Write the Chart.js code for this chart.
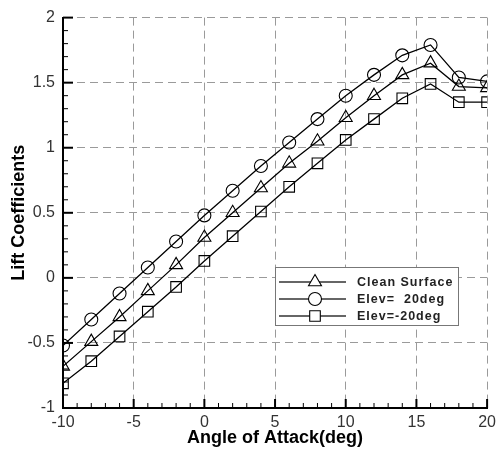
<!DOCTYPE html>
<html>
<head>
<meta charset="utf-8">
<script src="https://cdn.jsdelivr.net/npm/chart.js@4.4.1/dist/chart.umd.min.js"></script>
<style>
html,body{margin:0;padding:0;background:#fff}
#wrap{width:501px;height:453px}
</style>
</head>
<body>
<div id="wrap"><canvas id="liftChart" width="501" height="453"></canvas></div>
<script>
// angle of attack (deg)
const angles = [-10,-8,-6,-4,-2,0,2,4,6,8,10,12,14,16,18,20]

// lift coefficients
const cleanSurface = [-0.68,-0.49,-0.30,-0.10,0.10,0.31,0.50,0.69,0.88,1.05,1.23,1.40,1.56,1.65,1.47,1.46]
const elevPlus20   = [-0.52,-0.32,-0.12,0.08,0.28,0.48,0.67,0.86,1.04,1.22,1.40,1.56,1.71,1.79,1.54,1.51]
const elevMinus20  = [-0.81,-0.64,-0.45,-0.26,-0.07,0.13,0.32,0.51,0.70,0.88,1.06,1.22,1.38,1.49,1.35,1.35]

const seriesNames = ["Clean Surface","Elev=  20deg","Elev=-20deg"]

const xTicks = [-10,-5,0,5,10,15,20]
const yTicks = [-1,-0.5,0,0.5,1,1.5,2]

const FONT = "'Liberation Sans', Arial, Helvetica, sans-serif"

function points(vals){
return angles.map((a,i)=>({x:a,y:vals[i]}))
}

function serie(label,vals,style,r){
return {
label:label,
data:points(vals),
borderColor:"#000",
borderWidth:1.3,
pointStyle:style,
pointRadius:r,
pointHoverRadius:r,
pointBorderColor:"#000",
pointBackgroundColor:"rgba(0,0,0,0)",
pointBorderWidth:1.1,
tension:0,
fill:false
}
}

// petites graduations vers l'intérieur
const innerTicks = {
id:"innerTicks",
afterDraw(chart){
const ctx = chart.ctx
const xs = chart.scales.x
const ys = chart.scales.y
const a = chart.chartArea
ctx.save()
ctx.strokeStyle = "#000"
for(let v=-10; v<=20; v++){
let major = v % 5 === 0
let px = xs.getPixelForValue(v)
ctx.lineWidth = major ? 2 : 1
ctx.beginPath()
ctx.moveTo(px,a.bottom)
ctx.lineTo(px,a.bottom-(major?9:5))
ctx.stroke()
}
for(let k=-10; k<=20; k++){
let v = k/10
let major = k % 5 === 0
let py = ys.getPixelForValue(v)
ctx.lineWidth = major ? 2 : 1
ctx.beginPath()
ctx.moveTo(a.left,py)
ctx.lineTo(a.left+(major?10:5),py)
ctx.stroke()
}
ctx.restore()
}
}

// légende dans le graphique
const boxLegend = {
id:"boxLegend",
afterDraw(chart){
const ctx = chart.ctx
const left = 275, top = 267, w = 183, h = 58
ctx.save()
ctx.fillStyle = "#fff"
ctx.fillRect(left,top,w,h)
ctx.strokeStyle = "#777"
ctx.lineWidth = 1
ctx.strokeRect(left+0.5,top+0.5,w,h)
chart.data.datasets.forEach((ds,i)=>{
let y = 282 + i*17
ctx.strokeStyle = "#333"
ctx.lineWidth = 1.6
ctx.beginPath()
ctx.moveTo(279,y)
ctx.lineTo(346,y)
ctx.stroke()
ctx.fillStyle = "#fff"
ctx.strokeStyle = "#000"
ctx.lineWidth = 1.1
Chart.helpers.drawPoint(ctx,{pointStyle:ds.pointStyle,radius:ds.pointRadius,borderWidth:1.1},315,y)
ctx.fillStyle = "#222"
ctx.font = "bold 12.5px " + FONT
ctx.letterSpacing = "1px"
ctx.textBaseline = "middle"
ctx.textAlign = "left"
ctx.fillText(ds.label,357,y+1)
})
ctx.restore()
}
}

new Chart(document.getElementById("liftChart"),{
type:"line",
data:{
datasets:[
serie(seriesNames[0],cleanSurface,"triangle",7.5),
serie(seriesNames[1],elevPlus20,"circle",6.5),
serie(seriesNames[2],elevMinus20,"rect",7.5)
]
},
options:{
responsive:false,
devicePixelRatio:1,
animation:false,
layout:{padding:{top:15,right:10,left:0,bottom:0}},
plugins:{legend:{display:false},tooltip:{enabled:false}},
scales:{
x:{
type:"linear",
min:-10,
max:20,
afterBuildTicks(s){ s.ticks = xTicks.map(v=>({value:v})) },
afterFit(s){ s.height = 45 },
grid:{color:"#9a9a9a",lineWidth:1,drawTicks:false},
border:{display:true,color:"#000",width:2,dash:[8,5]},
ticks:{color:"#333",padding:5,font:{family:FONT,size:16},maxRotation:0,callback:v=>String(v)},
title:{display:true,text:"Angle of Attack(deg)",color:"#000",font:{family:FONT,size:18,weight:"bold"},padding:{top:0,bottom:4}}
},
y:{
type:"linear",
min:-1,
max:2,
afterBuildTicks(s){ s.ticks = yTicks.map(v=>({value:v})) },
afterFit(s){ s.width = 63 },
grid:{color:"#9a9a9a",lineWidth:1,drawTicks:false},
border:{display:true,color:"#000",width:2,dash:[8,5]},
ticks:{color:"#333",padding:8,font:{family:FONT,size:16},callback:v=>String(v)},
title:{display:true,text:"Lift Coefficients",color:"#000",font:{family:FONT,size:18,weight:"bold"},padding:{top:8,bottom:0}}
}
}
},
plugins:[innerTicks,boxLegend]
})
</script>
</body>
</html>
